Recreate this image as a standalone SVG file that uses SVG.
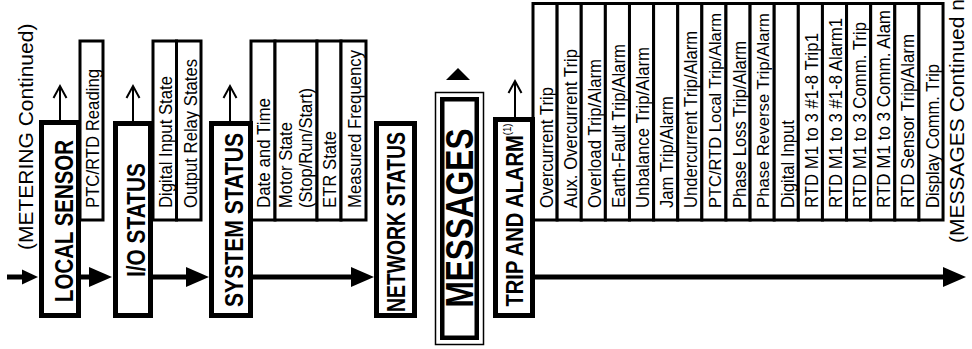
<svg xmlns="http://www.w3.org/2000/svg" width="972" height="349" viewBox="0 0 972 349">
<style>
.box{fill:#fff;stroke:#000;stroke-width:5}
.sub{fill:#fff;stroke:#000;stroke-width:3}
.t{font-family:"Liberation Sans",Arial,sans-serif;font-size:18px;fill:#000}
.tl{font-size:17px}
.b{font-family:"Liberation Sans",Arial,sans-serif;font-weight:bold;font-size:25px;text-anchor:middle;fill:#000}
.big{font-size:38px}
.c{font-family:"Liberation Sans",Arial,sans-serif;font-size:21px;fill:#000}
.sup{font-size:11px;font-weight:normal}
.thick{stroke:#000;stroke-width:5;fill:none}
.thin{stroke:#000;stroke-width:2;fill:none}
</style>
<defs>
<marker id="ahL" markerUnits="userSpaceOnUse" markerWidth="24" markerHeight="20" refX="6" refY="10" orient="auto" overflow="visible"><path d="M0,0 L23,10 L0,20 z" fill="#000"/></marker>
<marker id="ahS" markerUnits="userSpaceOnUse" markerWidth="17" markerHeight="16" refX="4" refY="7.5" orient="auto" overflow="visible"><path d="M0,0 L16,7.5 L0,15 z" fill="#000"/></marker>
<marker id="open" markerUnits="userSpaceOnUse" markerWidth="15" markerHeight="15" refX="13" refY="7.5" orient="auto" overflow="visible"><path d="M1,1 L13,7.5 L1,14" fill="none" stroke="#000" stroke-width="2"/></marker>
</defs>
<rect width="972" height="349" fill="#fff"/>

<text class="c" transform="translate(33,250) rotate(-90)">(METERING Continued)</text>
<text class="c" transform="translate(964,243) rotate(-90)">(MESSAGES Continued n</text>

<!-- sub-boxes -->
<g id="ptc-rtd-reading"><rect class="sub" x="80" y="41" width="23" height="179"/><text class="t" transform="translate(98.5,208) rotate(-90)" textLength="139" lengthAdjust="spacingAndGlyphs">PTC/RTD Reading</text></g>
<g id="digital-input-state"><rect class="sub" x="153" y="41" width="23.5" height="179"/><text class="t" transform="translate(172,208) rotate(-90)" textLength="132" lengthAdjust="spacingAndGlyphs">Digital Input State</text></g>
<g id="output-relay-states"><rect class="sub" x="176.5" y="41" width="24.5" height="179"/><text class="t" transform="translate(196.5,208) rotate(-90)" textLength="149" lengthAdjust="spacingAndGlyphs">Output Relay States</text></g>
<g id="date-and-time"><rect class="sub" x="251" y="41" width="24" height="179"/><text class="t" transform="translate(270,208) rotate(-90)" textLength="110" lengthAdjust="spacingAndGlyphs">Date and Time</text></g>
<g id="motor-state"><rect class="sub" x="275" y="41" width="42" height="179"/><text class="t" transform="translate(292,208) rotate(-90)" textLength="86" lengthAdjust="spacingAndGlyphs">Motor State</text><text class="t" transform="translate(312,208) rotate(-90)" textLength="120" lengthAdjust="spacingAndGlyphs">(Stop/Run/Start)</text></g>
<g id="etr-state"><rect class="sub" x="317" y="41" width="24" height="179"/><text class="t" transform="translate(336,208) rotate(-90)" textLength="77" lengthAdjust="spacingAndGlyphs">ETR State</text></g>
<g id="measured-frequency"><rect class="sub" x="341" y="41" width="25" height="179"/><text class="t" transform="translate(361,208) rotate(-90)" textLength="158" lengthAdjust="spacingAndGlyphs">Measured Frequency</text></g>

<g id="overcurrent-trip"><rect class="sub" x="533" y="3.5" width="24.12" height="216.5"/><text class="t" transform="translate(552.6,208) rotate(-90)" textLength="121" lengthAdjust="spacingAndGlyphs">Overcurrent Trip</text></g>
<g id="aux-overcurrent-trip"><rect class="sub" x="557.12" y="3.5" width="24.12" height="216.5"/><text class="t" transform="translate(576.7,208) rotate(-90)" textLength="159" lengthAdjust="spacingAndGlyphs">Aux. Overcurrent Trip</text></g>
<g id="overload"><rect class="sub" x="581.24" y="3.5" width="24.12" height="216.5"/><text class="t" transform="translate(600.8,208) rotate(-90)" textLength="149" lengthAdjust="spacingAndGlyphs">Overload Trip/Alarm</text></g>
<g id="earth-fault"><rect class="sub" x="605.36" y="3.5" width="24.12" height="216.5"/><text class="t" transform="translate(625,208) rotate(-90)" textLength="164" lengthAdjust="spacingAndGlyphs">Earth-Fault Trip/Alarm</text></g>
<g id="unbalance"><rect class="sub" x="629.48" y="3.5" width="24.12" height="216.5"/><text class="t" transform="translate(649.1,208) rotate(-90)" textLength="161" lengthAdjust="spacingAndGlyphs">Unbalance Trip/Alarm</text></g>
<g id="jam"><rect class="sub" x="653.6" y="3.5" width="24.12" height="216.5"/><text class="t" transform="translate(673.2,208) rotate(-90)" textLength="112" lengthAdjust="spacingAndGlyphs">Jam Trip/Alarm</text></g>
<g id="undercurrent"><rect class="sub" x="677.72" y="3.5" width="24.12" height="216.5"/><text class="t" transform="translate(697.3,208) rotate(-90)" textLength="177" lengthAdjust="spacingAndGlyphs">Undercurrent Trip/Alarm</text></g>
<g id="ptc-rtd-local"><rect class="sub" x="701.84" y="3.5" width="24.12" height="216.5"/><text class="t tl" transform="translate(721,208) rotate(-90)" textLength="195" lengthAdjust="spacingAndGlyphs">PTC/RTD Local Trip/Alarm</text></g>
<g id="phase-loss"><rect class="sub" x="725.96" y="3.5" width="24.12" height="216.5"/><text class="t" transform="translate(745.6,208) rotate(-90)" textLength="167" lengthAdjust="spacingAndGlyphs">Phase Loss Trip/Alarm</text></g>
<g id="phase-reverse"><rect class="sub" x="750.08" y="3.5" width="24.12" height="216.5"/><text class="t tl" transform="translate(769.3,208) rotate(-90)" textLength="195" lengthAdjust="spacingAndGlyphs">Phase Reverse Trip/Alarm</text></g>
<g id="digital-input"><rect class="sub" x="774.2" y="3.5" width="24.12" height="216.5"/><text class="t" transform="translate(793.8,208) rotate(-90)" textLength="88" lengthAdjust="spacingAndGlyphs">Digital Input</text></g>
<g id="rtd-trip1"><rect class="sub" x="798.32" y="3.5" width="24.12" height="216.5"/><text class="t" transform="translate(817.9,208) rotate(-90)" textLength="175" lengthAdjust="spacingAndGlyphs">RTD M1 to 3 #1-8 Trip1</text></g>
<g id="rtd-alarm1"><rect class="sub" x="822.44" y="3.5" width="24.12" height="216.5"/><text class="t" transform="translate(842,208) rotate(-90)" textLength="190" lengthAdjust="spacingAndGlyphs">RTD M1 to 3 #1-8 Alarm1</text></g>
<g id="rtd-comm-trip"><rect class="sub" x="846.56" y="3.5" width="24.12" height="216.5"/><text class="t" transform="translate(866.2,208) rotate(-90)" textLength="186" lengthAdjust="spacingAndGlyphs">RTD M1 to 3 Comm. Trip</text></g>
<g id="rtd-comm-alarm"><rect class="sub" x="870.68" y="3.5" width="24.12" height="216.5"/><text class="t" transform="translate(890.3,208) rotate(-90)" textLength="198" lengthAdjust="spacingAndGlyphs">RTD M1 to 3 Comm. Alam</text></g>
<g id="rtd-sensor"><rect class="sub" x="894.8" y="3.5" width="24.12" height="216.5"/><text class="t" transform="translate(914.4,208) rotate(-90)" textLength="174" lengthAdjust="spacingAndGlyphs">RTD Sensor Trip/Alarm</text></g>
<g id="display-comm-trip"><rect class="sub" x="918.92" y="3.5" width="24.12" height="216.5"/><text class="t" transform="translate(938.5,208) rotate(-90)" textLength="144" lengthAdjust="spacingAndGlyphs">Display Comm. Trip</text></g>

<!-- main nodes -->
<g id="local-sensor"><rect class="box" x="41.5" y="122.5" width="37" height="193"/><text class="b" transform="translate(73,221) rotate(-90)" textLength="162" lengthAdjust="spacingAndGlyphs">LOCAL SENSOR</text></g>
<g id="io-status"><rect class="box" x="115.5" y="123.5" width="35" height="192"/><text class="b" transform="translate(145,220) rotate(-90)" textLength="114" lengthAdjust="spacingAndGlyphs">I/O STATUS</text></g>
<g id="system-status"><rect class="box" x="211.5" y="123.5" width="39" height="192"/><text class="b" transform="translate(243,220) rotate(-90)" textLength="174" lengthAdjust="spacingAndGlyphs">SYSTEM STATUS</text></g>
<g id="network-status"><rect class="box" x="376.5" y="123.5" width="38" height="192"/><text class="b" transform="translate(404.5,222) rotate(-90)" textLength="180" lengthAdjust="spacingAndGlyphs">NETWORK STATUS</text></g>
<g id="messages"><rect x="435.5" y="92.5" width="48" height="252" fill="#fff" stroke="#000" stroke-width="1.5"/><rect x="442.25" y="99.25" width="34.5" height="238.5" fill="#fff" stroke="#000" stroke-width="4.5"/><text class="b big" transform="translate(473,218) rotate(-90)" textLength="179" lengthAdjust="spacingAndGlyphs">MESSAGES</text></g>
<g id="up-indicator"><polygon points="446,80 458,68 470,80" fill="#000"/></g>
<g id="trip-and-alarm"><rect class="box" x="495.5" y="119.5" width="37" height="196"/><text class="b" style="font-size:23px" transform="translate(523,215) rotate(-90)" textLength="183" lengthAdjust="spacingAndGlyphs">TRIP AND ALARM<tspan class="sup" dy="-12">(1)</tspan></text></g>

<!-- connectors -->
<g id="connectors">
<path class="thick" d="M7,277 H26" marker-end="url(#ahS)"/>
<path class="thick" d="M81,277 H95" marker-end="url(#ahL)"/>
<path class="thick" d="M153,277 H192" marker-end="url(#ahL)"/>
<path class="thick" d="M253,277 H357" marker-end="url(#ahL)"/>
<path class="thick" d="M535,277 H949" marker-end="url(#ahL)"/>
<path class="thin" d="M60,120 V86" marker-end="url(#open)"/>
<path class="thin" d="M133,121 V86" marker-end="url(#open)"/>
<path class="thin" d="M230,121 V86" marker-end="url(#open)"/>
<path class="thin" d="M515,117 V81" marker-end="url(#open)"/>
</g>
</svg>
